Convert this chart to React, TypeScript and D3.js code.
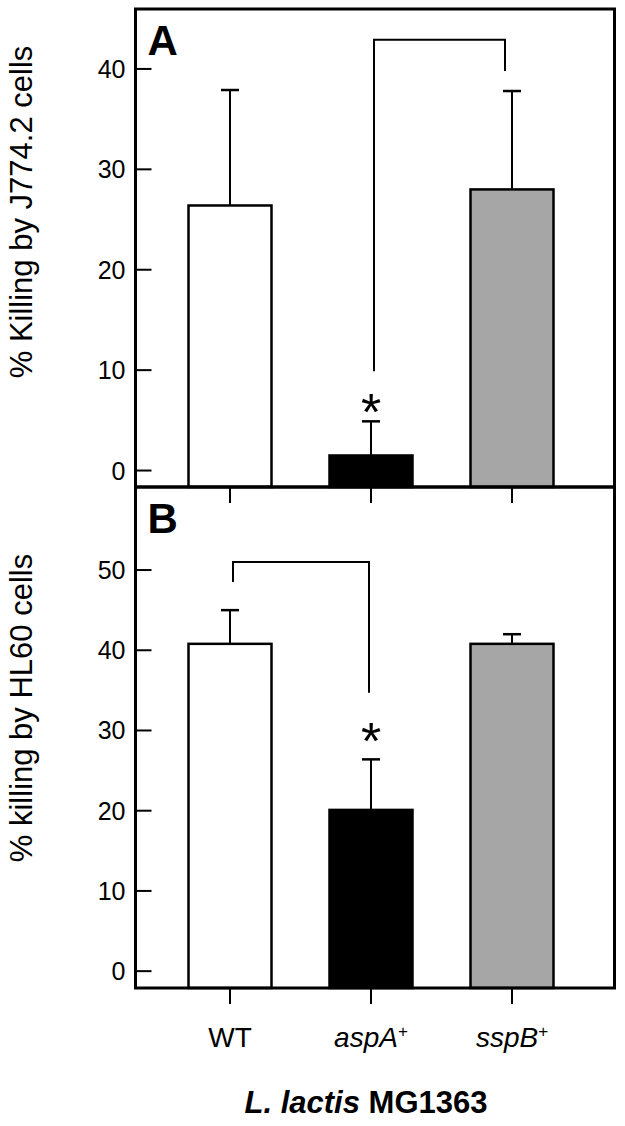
import React, { useEffect, useRef } from "react";
import * as d3 from "d3";

const categories = ["WT", "aspA", "sspB"];
const italicLabel = [false, true, true];
const superLabel = ["", "+", "+"];
const killingJ774 = [26.4, 1.5, 28.0];
const errorJ774 = [11.5, 3.4, 9.8];
const killingHL60 = [40.8, 20.1, 40.8];
const errorHL60 = [4.2, 6.3, 1.2];
const ticksJ774 = [0, 10, 20, 30, 40];
const ticksHL60 = [0, 10, 20, 30, 40, 50];
const barColors = ["#ffffff", "#000000", "#a6a6a6"];
// bracket: from bar, to bar, top value, end value at "from", end value at "to"
const bracketJ774 = [1, 2, 42.9, 9.9, 39.8];
const bracketHL60 = [0, 1, 51.0, 48.5, 34.7];
// significance star: bar index, value of star centre
const starJ774 = [1, 7.0];
const starHL60 = [1, 30.2];

const FONT = "'Liberation Sans', Arial, sans-serif";

const App = () => {
    const svgRef = useRef(null);
    const width = 625;
    const height = 1126;
    const left = 135.5;
    const right = 614.5;

    useEffect(() => {
        const svg = d3.select(svgRef.current);
        svg.selectAll("*").remove();

        const x = d3.scalePoint().domain(categories).range([230, 512]);
        const barW = 83;

        const drawPanel = (opts) => {
            const { top, bottom, domain, values, errors, ticks, bracket, star, letter, label, labelY, labelSize } = opts;
            const y = d3.scaleLinear().domain(domain).range([bottom, top]);
            const g = svg.append("g");

            // bars
            g.selectAll("rect.bar")
                .data(values)
                .enter()
                .append("rect")
                .attr("x", (d, i) => x(categories[i]) - barW / 2)
                .attr("y", (d) => y(d))
                .attr("width", barW)
                .attr("height", (d) => bottom - y(d))
                .attr("fill", (d, i) => barColors[i])
                .attr("stroke", "#000")
                .attr("stroke-width", 2.5);

            // error bars (upper only)
            values.forEach((v, i) => {
                const cx = x(categories[i]);
                g.append("line")
                    .attr("x1", cx).attr("x2", cx)
                    .attr("y1", y(v)).attr("y2", y(v + errors[i]))
                    .attr("stroke", "#000").attr("stroke-width", 2);
                g.append("line")
                    .attr("x1", cx - 9).attr("x2", cx + 9)
                    .attr("y1", y(v + errors[i])).attr("y2", y(v + errors[i]))
                    .attr("stroke", "#000").attr("stroke-width", 2.5);
            });

            // bracket
            const bx1 = x(categories[bracket[0]]) + 3;
            const bx2 = x(categories[bracket[1]]) - (bracket[1] === 2 ? 7 : 2);
            g.append("path")
                .attr("d", `M${bx1},${y(bracket[3])}V${y(bracket[2])}H${bx2}V${y(bracket[4])}`)
                .attr("fill", "none")
                .attr("stroke", "#000")
                .attr("stroke-width", 2);

            // star
            g.append("text")
                .attr("x", x(categories[star[0]]))
                .attr("y", y(star[1]) + 30)
                .attr("text-anchor", "middle")
                .style("font-family", FONT)
                .style("font-size", "52px")
                .text("*");

            // y ticks, inward
            g.selectAll("line.tick")
                .data(ticks)
                .enter()
                .append("line")
                .attr("x1", left).attr("x2", left + 16)
                .attr("y1", (d) => y(d)).attr("y2", (d) => y(d))
                .attr("stroke", "#000").attr("stroke-width", 2);
            g.selectAll("text.tick")
                .data(ticks)
                .enter()
                .append("text")
                .attr("x", left - 10)
                .attr("y", (d) => y(d))
                .attr("dy", "0.36em")
                .attr("text-anchor", "end")
                .style("font-family", FONT)
                .style("font-size", "25px")
                .text((d) => d);

            // x ticks below the panel
            g.selectAll("line.xtick")
                .data(categories)
                .enter()
                .append("line")
                .attr("x1", (d) => x(d)).attr("x2", (d) => x(d))
                .attr("y1", bottom).attr("y2", bottom + 16)
                .attr("stroke", "#000").attr("stroke-width", 2);

            // frame
            g.append("rect")
                .attr("x", left).attr("y", top)
                .attr("width", right - left).attr("height", bottom - top)
                .attr("fill", "none")
                .attr("stroke", "#000")
                .attr("stroke-width", 3);

            // panel letter
            g.append("text")
                .attr("x", left + 12)
                .attr("y", top + 46)
                .style("font-family", FONT)
                .style("font-weight", "bold")
                .style("font-size", "42px")
                .text(letter);

            // y label
            g.append("text")
                .attr("transform", `translate(32,${labelY}) rotate(-90)`)
                .attr("text-anchor", "middle")
                .style("font-family", FONT)
                .style("font-size", labelSize + "px")
                .text(label);
        };

        drawPanel({
            top: 9, bottom: 487, domain: [-1.64, 45.97],
            values: killingJ774, errors: errorJ774, ticks: ticksJ774,
            bracket: bracketJ774, star: starJ774, letter: "A",
            label: "% Killing by J774.2 cells", labelY: 212, labelSize: 31,
        });

        drawPanel({
            top: 487, bottom: 988, domain: [-2.1, 60.35],
            values: killingHL60, errors: errorHL60, ticks: ticksHL60,
            bracket: bracketHL60, star: starHL60, letter: "B",
            label: "% killing by HL60 cells", labelY: 708, labelSize: 31,
        });

        // category labels
        const labels = svg.selectAll("text.cat")
            .data(categories)
            .enter()
            .append("text")
            .attr("x", (d) => x(d))
            .attr("y", 1047)
            .attr("text-anchor", "middle")
            .style("font-family", FONT)
            .style("font-size", "28px");
        labels.append("tspan")
            .style("font-style", (d, i) => (italicLabel[i] ? "italic" : "normal"))
            .text((d) => d);
        labels.append("tspan")
            .attr("dy", -10)
            .style("font-size", "17px")
            .text((d, i) => superLabel[i]);

        // x title
        const title = svg.append("text")
            .attr("x", 366)
            .attr("y", 1113)
            .attr("text-anchor", "middle")
            .style("font-family", FONT)
            .style("font-weight", "bold")
            .style("font-size", "31px");
        title.append("tspan").style("font-style", "italic").text("L. lactis");
        title.append("tspan").text(" MG1363");
    }, []);

    return (
        <svg
            ref={svgRef}
            width={width}
            height={height}
            style={{ position: "absolute", left: 0, top: 0, background: "#fff" }}
        />
    );
};

export default App;
